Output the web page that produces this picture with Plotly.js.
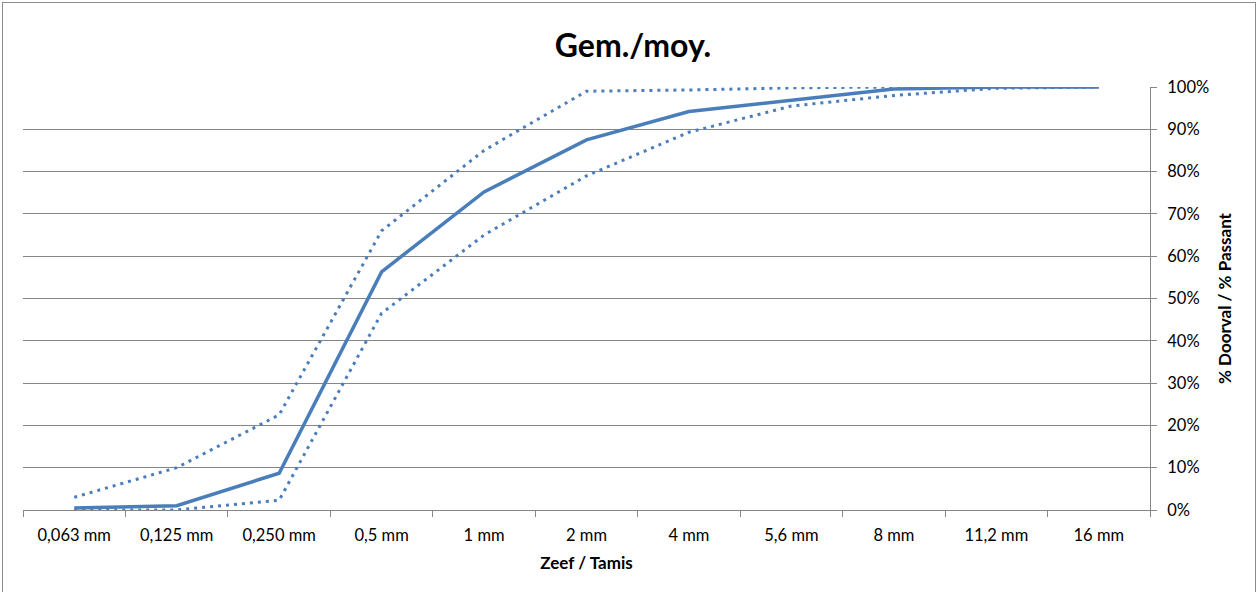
<!DOCTYPE html>
<html>
<head>
<meta charset="utf-8">
<script src="https://cdn.plot.ly/plotly-3.0.1.min.js"></script>
<style>
  html, body { margin: 0; padding: 0; background: #fff; }
  #frame { position: absolute; left: 2px; top: 2px; width: 1254px; height: 600px; border: 1px solid #8c8c8c; box-sizing: border-box; }
  #chart { position: absolute; left: 0; top: 0; width: 1259px; height: 592px; }
</style>
</head>
<body>
<div id="frame"></div>
<div id="chart"></div>
<script>
const categories = ["0,063 mm", "0,125 mm", "0,250 mm", "0,5 mm", "1 mm", "2 mm", "4 mm", "5,6 mm", "8 mm", "11,2 mm", "16 mm"];
const meanValues = [0.5, 1, 8.7, 56.3, 75.2, 87.5, 94.2, 96.8, 99.5, 100, 100];
const upperValues = [3, 10, 22.5, 66, 85, 99, 99.3, 99.8, 100, 100, 100];
const lowerValues = [0, 0, 2.3, 46.5, 65, 79, 89.3, 95.5, 98, 99.7, 100];
const yTickValues = [0, 10, 20, 30, 40, 50, 60, 70, 80, 90, 100];

const blue = "#4A7EBB";
const fontFam = "Lato, 'Open Sans', sans-serif";

const traces = [
  { x: categories, y: upperValues, type: "scatter", mode: "lines", name: "max",
    line: { color: blue, width: 3, dash: "3px,5px" }, hoverinfo: "skip" },
  { x: categories, y: lowerValues, type: "scatter", mode: "lines", name: "min",
    line: { color: blue, width: 3, dash: "3px,5px" }, hoverinfo: "skip" },
  { x: categories, y: meanValues, type: "scatter", mode: "lines", name: "gem.",
    line: { color: blue, width: 3.5 }, hoverinfo: "skip" }
];

const layout = {
  width: 1259, height: 592,
  margin: { l: 23, r: 109, t: 87, b: 82 },
  paper_bgcolor: "rgba(0,0,0,0)",
  plot_bgcolor: "#ffffff",
  showlegend: false,
  font: { family: fontFam, size: 16, color: "#000" },
  title: { text: "<b>Gem./moy.</b>", x: 633 / 1259, xanchor: "center", y: 1 - 46 / 592, yanchor: "middle",
           font: { family: fontFam, size: 32, color: "#000" } },
  xaxis: {
    type: "category",
    range: [-0.5, categories.length - 0.5],
    tickson: "boundaries",
    ticks: "outside", ticklen: 6, tickcolor: "#868686",
    ticklabelstandoff: 10,
    showline: true, linecolor: "#868686", linewidth: 1,
    showgrid: false, zeroline: false,
    tickfont: { family: fontFam, size: 16.5, color: "#000" },
    title: { text: "<b>Zeef / Tamis</b>", standoff: 13, font: { family: fontFam, size: 17, color: "#000" } },
    fixedrange: true
  },
  yaxis: {
    side: "right",
    range: [0, 100],
    tickvals: yTickValues,
    ticktext: yTickValues.map(v => v + "%"),
    ticks: "outside", ticklen: 6, tickcolor: "#868686",
    ticklabelstandoff: 7,
    showline: true, linecolor: "#868686", linewidth: 1,
    showgrid: true, gridcolor: "#868686", gridwidth: 1,
    zeroline: false,
    tickfont: { family: fontFam, size: 16.5, color: "#000" },
    title: { text: "<b>% Doorval / % Passant</b>", standoff: 10, font: { family: fontFam, size: 17, color: "#000" } },
    fixedrange: true
  }
};

Plotly.newPlot("chart", traces, layout, { displayModeBar: false, staticPlot: true });
</script>
</body>
</html>
